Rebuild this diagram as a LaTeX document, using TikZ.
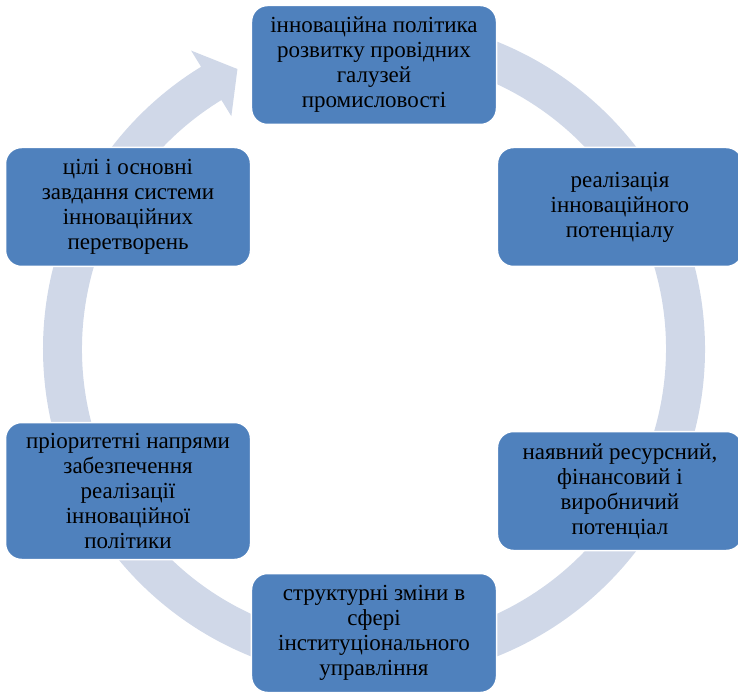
\documentclass[tikz,border=0pt]{standalone}
\usepackage{fontspec}
\setmainfont{Liberation Serif}
\newfontfamily\stagefont{Liberation Serif}
\definecolor{boxblue}{HTML}{4F81BD}
\definecolor{ringblue}{HTML}{D0D8E8}
\tikzset{
  stage/.style={draw=white, line width=1.5pt, fill=boxblue, rounded corners=16pt,
    minimum width=245pt, minimum height=119pt, align=center, inner xsep=4pt, inner ysep=8pt,
    font=\stagefont\fontsize{23}{25}\selectfont}
}
\begin{document}
\begin{tikzpicture}[x=1pt,y=1pt]
      \useasboundingbox (-374,-344) rectangle (364,349);
      % ring with arrow head
      \fill[ringblue] (95:331) arc[start angle=95, end angle=-238.5, radius=331]
        -- (-238.5:350) -- (-244:311.5) -- (-238.5:273) -- (-238.5:292)
        arc[start angle=-238.5, end angle=95, radius=292] -- cycle;
      \draw
        (90:284) node[stage] (0){інноваційна політика\\розвитку провідних\\галузей\\промисловості}
        (30:284) node[stage] (1){реалізація\\інноваційного\\потенціалу}
        (-30:284) node[stage] (2){наявний ресурсний,\\фінансовий і\\виробничий\\потенціал}
        (-90:284) node[stage] (3){структурні зміни в\\сфері\\інституціонального\\управління}
        (-150:284) node[stage, minimum height=137pt] (4){пріоритетні напрями\\забезпечення\\реалізації\\інноваційної\\політики}
        (150:284) node[stage] (5){цілі і основні\\завдання системи\\інноваційних\\перетворень};
    \end{tikzpicture}
\end{document}
